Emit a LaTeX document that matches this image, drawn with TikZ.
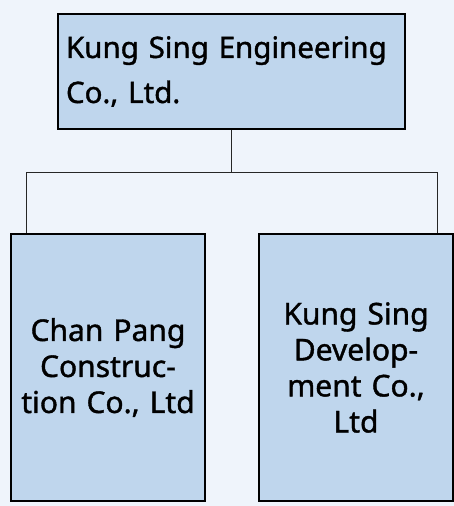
\documentclass[tikz,border=0pt]{standalone}
\usepackage{fontspec}
\newfontfamily\orgfont{Noto Sans}[RawFeature={embolden=1.3}]
\usetikzlibrary{positioning,calc}
\definecolor{pagebg}{RGB}{239,244,251}
\definecolor{boxfill}{RGB}{191,214,237}

\begin{document}
\begin{tikzpicture}[
    x=1pt, y=-1pt,
    box/.style={draw, line width=2pt, fill=boxfill, inner xsep=8pt, inner ysep=0pt,
                minimum width=194pt, minimum height=267pt, text width=178pt,
                align=center, font=\orgfont\fontsize{30}{36}\selectfont},
    link/.style={line width=1pt, draw=black!85},
]

% Page
\useasboundingbox (0,0) rectangle (454,506);
\fill[pagebg] (0,0) rectangle (454,506);

% Parent company
\node[box, anchor=north west, minimum width=347pt, minimum height=115pt, text width=331pt,
      align=left, font=\orgfont\fontsize{29.5}{45}\selectfont] (parent) at (57,13)
      {Kung Sing Engineering\\Co., Ltd.};

% Subsidiaries
\node[box, anchor=north west] (chanpang) at (10,233) {Chan Pang\\Construc-\\tion Co., Ltd};
\node[box, right=52pt of chanpang] (ksdev) {Kung Sing\\Develop-\\ment Co.,\\Ltd};

% Tree lines
\coordinate (barL) at (26,172);
\coordinate (barR) at (437,172);
\draw[link] (parent.south) -- (parent.south |- barL);
\draw[link] (barL) -- (barR);
\draw[link] (barL) -- (barL |- chanpang.north);
\draw[link] (barR) -- (barR |- ksdev.north);

\end{tikzpicture}
\end{document}
